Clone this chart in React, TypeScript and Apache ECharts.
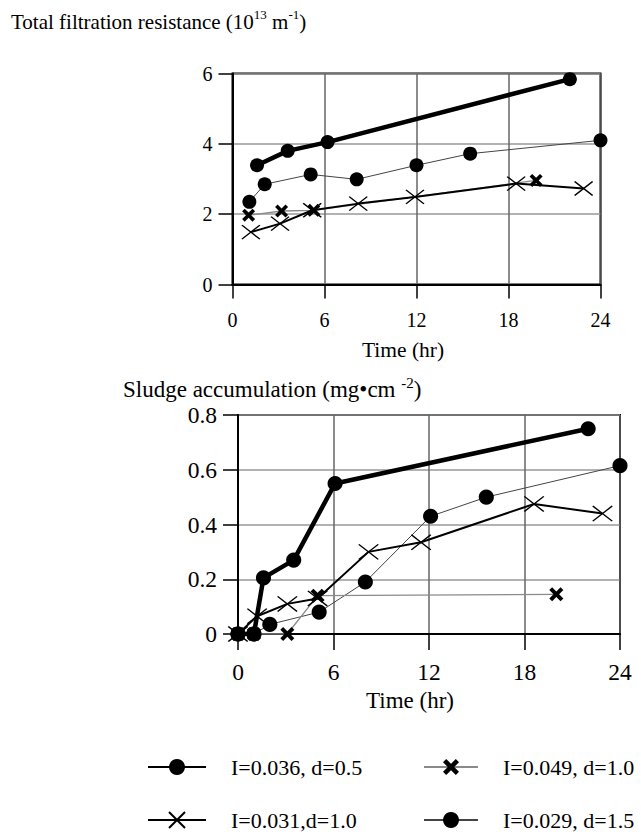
import React, { useEffect, useRef } from "react";
import * as echarts from "echarts";

const FONT = '"Liberation Serif", "Times New Roman", serif';

const seriesNames = ["I=0.036, d=0.5", "I=0.049, d=1.0", "I=0.031,d=1.0", "I=0.029, d=1.5"];

// Top chart: total filtration resistance (10^13 m^-1) vs time (hr)
const resT036 = [1.6, 3.6, 6.2, 22.0];
const resV036 = [3.39, 3.8, 4.05, 5.84];
const resT049 = [1.05, 3.2, 5.3, 19.8];
const resV049 = [1.97, 2.09, 2.11, 2.96];
const resT031 = [1.2, 3.1, 5.2, 8.2, 11.9, 18.5, 22.9];
const resV031 = [1.49, 1.73, 2.11, 2.3, 2.49, 2.87, 2.73];
const resT029 = [1.1, 2.1, 5.1, 8.1, 12.0, 15.5, 24.0];
const resV029 = [2.35, 2.85, 3.13, 2.99, 3.39, 3.72, 4.1];

// Bottom chart: sludge accumulation (mg/cm2) vs time (hr)
const sluT036 = [0, 1, 1.6, 3.5, 6.1, 22.0];
const sluV036 = [0, 0, 0.205, 0.27, 0.55, 0.75];
const sluT049 = [0, 1, 3.1, 5.0, 20.0];
const sluV049 = [0, 0, 0, 0.14, 0.145];
const sluT031 = [0, 1.2, 3.1, 5.0, 8.2, 11.5, 18.6, 22.9];
const sluV031 = [0, 0.065, 0.11, 0.13, 0.3, 0.335, 0.475, 0.44];
const sluT029 = [0, 1, 2, 5.1, 8.0, 12.1, 15.6, 24.0];
const sluV029 = [0, 0, 0.035, 0.08, 0.19, 0.43, 0.5, 0.615];

const THIN_X = "path://M0,0L20,16M20,0L0,16";
const BOLD_X = "path://M2,0L5,3L8,0L10,2L7,5L10,8L8,10L5,7L2,10L0,8L3,5L0,2Z";

const zip = (t: number[], v: number[]) => t.map((x, i) => [x, v[i]]);

const styleFor = (idx: number, big: boolean) => {
  const s = big ? 1.08 : 1;
  switch (idx) {
    case 0:
      return {
        symbol: "circle",
        symbolSize: 14 * s,
        lineStyle: { color: "#000", width: 4.5 },
        itemStyle: { color: "#000" },
        z: 5,
      };
    case 1:
      return {
        symbol: BOLD_X,
        symbolSize: 13 * s,
        lineStyle: { color: "#8a8a8a", width: 1.3 },
        itemStyle: { color: "#000" },
        z: 3,
      };
    case 2:
      return {
        symbol: THIN_X,
        symbolSize: [18 * s, 14 * s],
        lineStyle: { color: "#000", width: 2 },
        itemStyle: { color: "#000", borderColor: "#000", borderWidth: 1.4 },
        z: 4,
      };
    default:
      return {
        symbol: "circle",
        symbolSize: 14 * s,
        lineStyle: { color: "#444", width: 1 },
        itemStyle: { color: "#000" },
        z: 2,
      };
  }
};

export default function App() {
  const ref = useRef<HTMLDivElement>(null);
  useEffect(() => {
    if (!ref.current) return;
    const chart = echarts.init(ref.current, null, { renderer: "svg" });

    const xAxisBase = (gridIndex: number, fs: number, margin: number, tick: number) => ({
      type: "value",
      gridIndex,
      min: 0,
      max: 24,
      interval: 6,
      axisLine: { show: true, onZero: false, lineStyle: { color: "#000", width: 2 } },
      axisTick: { show: true, inside: false, length: tick, lineStyle: { color: "#000", width: 1.5 } },
      axisLabel: { color: "#000", fontFamily: FONT, fontSize: fs, margin },
      splitLine: { show: true, lineStyle: { color: "#666", width: 1.5 } },
    });
    const yAxisBase = (
      gridIndex: number,
      max: number,
      interval: number,
      fs: number,
      margin: number,
      tick: number,
      fmt?: (v: number) => string
    ) => ({
      type: "value",
      gridIndex,
      min: 0,
      max,
      interval,
      axisLine: { show: true, onZero: false, lineStyle: { color: "#000", width: 2 } },
      axisTick: { show: true, inside: false, length: tick, lineStyle: { color: "#000", width: 1.5 } },
      axisLabel: { color: "#000", fontFamily: FONT, fontSize: fs, margin, formatter: fmt },
      splitLine: { show: true, lineStyle: { color: "#999", width: 1.5 } },
    });

    const top = [
      zip(resT036, resV036),
      zip(resT049, resV049),
      zip(resT031, resV031),
      zip(resT029, resV029),
    ];
    const bottom = [
      zip(sluT036, sluV036),
      zip(sluT049, sluV049),
      zip(sluT031, sluV031),
      zip(sluT029, sluV029),
    ];

    const series: any[] = [];
    top.forEach((d, i) => {
      series.push({
        type: "line",
        name: seriesNames[i],
        xAxisIndex: 0,
        yAxisIndex: 0,
        data: d,
        showAllSymbol: true,
        ...styleFor(i, false),
      });
    });
    bottom.forEach((d, i) => {
      series.push({
        type: "line",
        name: seriesNames[i],
        xAxisIndex: 1,
        yAxisIndex: 1,
        data: d,
        showAllSymbol: true,
        ...styleFor(i, true),
      });
    });

    const legendText = {
      fontFamily: FONT,
      fontSize: 22,
      lineHeight: 22,
      color: "#000",
      padding: [0, 0, 0, 20],
    };

    chart.setOption({
      animation: false,
      backgroundColor: "#fff",
      grid: [
        { left: 232.5, top: 73.5, width: 368, height: 211, show: true, borderColor: "#000", borderWidth: 2 },
        { left: 238, top: 415, width: 382, height: 219, show: true, borderColor: "#000", borderWidth: 2 },
      ],
      xAxis: [xAxisBase(0, 20, 25, 14), xAxisBase(1, 23.5, 26, 16)],
      yAxis: [
        yAxisBase(0, 6, 2, 20, 20, 14),
        yAxisBase(1, 0.8, 0.2, 23.5, 21, 15, (v: number) => (v === 0 ? "0" : v.toFixed(1))),
      ],
      legend: [
        {
          data: [seriesNames[0], seriesNames[2]],
          left: 147,
          top: 756,
          height: 78,
          padding: 0,
          orient: "vertical",
          itemWidth: 58,
          itemHeight: 20,
          itemGap: 31,
          selectedMode: false,
          textStyle: legendText,
        },
        {
          data: [seriesNames[1], seriesNames[3]],
          left: 423,
          top: 756,
          height: 78,
          padding: 0,
          orient: "vertical",
          itemWidth: 54,
          itemHeight: 20,
          itemGap: 31,
          selectedMode: false,
          textStyle: legendText,
        },
      ],
      graphic: [
        {
          type: "text",
          x: 11,
          y: 20,
          style: {
            text: "{a|Total filtration resistance (10}{s|13}{a| m}{s|-1}{a|)}",
            verticalAlign: "middle",
            rich: {
              a: { fontFamily: FONT, fontSize: 21, color: "#000", lineHeight: 24, verticalAlign: "bottom" },
              s: { fontFamily: FONT, fontSize: 13, color: "#000", lineHeight: 24, verticalAlign: "top" },
            },
          },
        },
        {
          type: "text",
          x: 403,
          y: 350,
          style: {
            text: "Time (hr)",
            align: "center",
            verticalAlign: "middle",
            fontFamily: FONT,
            fontSize: 21.5,
            fill: "#000",
          },
        },
        {
          type: "text",
          x: 123,
          y: 388,
          style: {
            text: "{a|Sludge accumulation (mg\u2022cm }{s|-2}{a|)}",
            verticalAlign: "middle",
            rich: {
              a: { fontFamily: FONT, fontSize: 23, color: "#000", lineHeight: 26, verticalAlign: "bottom" },
              s: { fontFamily: FONT, fontSize: 15, color: "#000", lineHeight: 26, verticalAlign: "top" },
            },
          },
        },
        {
          type: "text",
          x: 410,
          y: 700,
          style: {
            text: "Time (hr)",
            align: "center",
            verticalAlign: "middle",
            fontFamily: FONT,
            fontSize: 23,
            fill: "#000",
          },
        },
      ],
      series,
    });
    return () => chart.dispose();
  }, []);

  return (
    <div
      ref={ref}
      style={{ position: "fixed", left: 0, top: 0, width: 641, height: 834, background: "#fff" }}
    />
  );
}
